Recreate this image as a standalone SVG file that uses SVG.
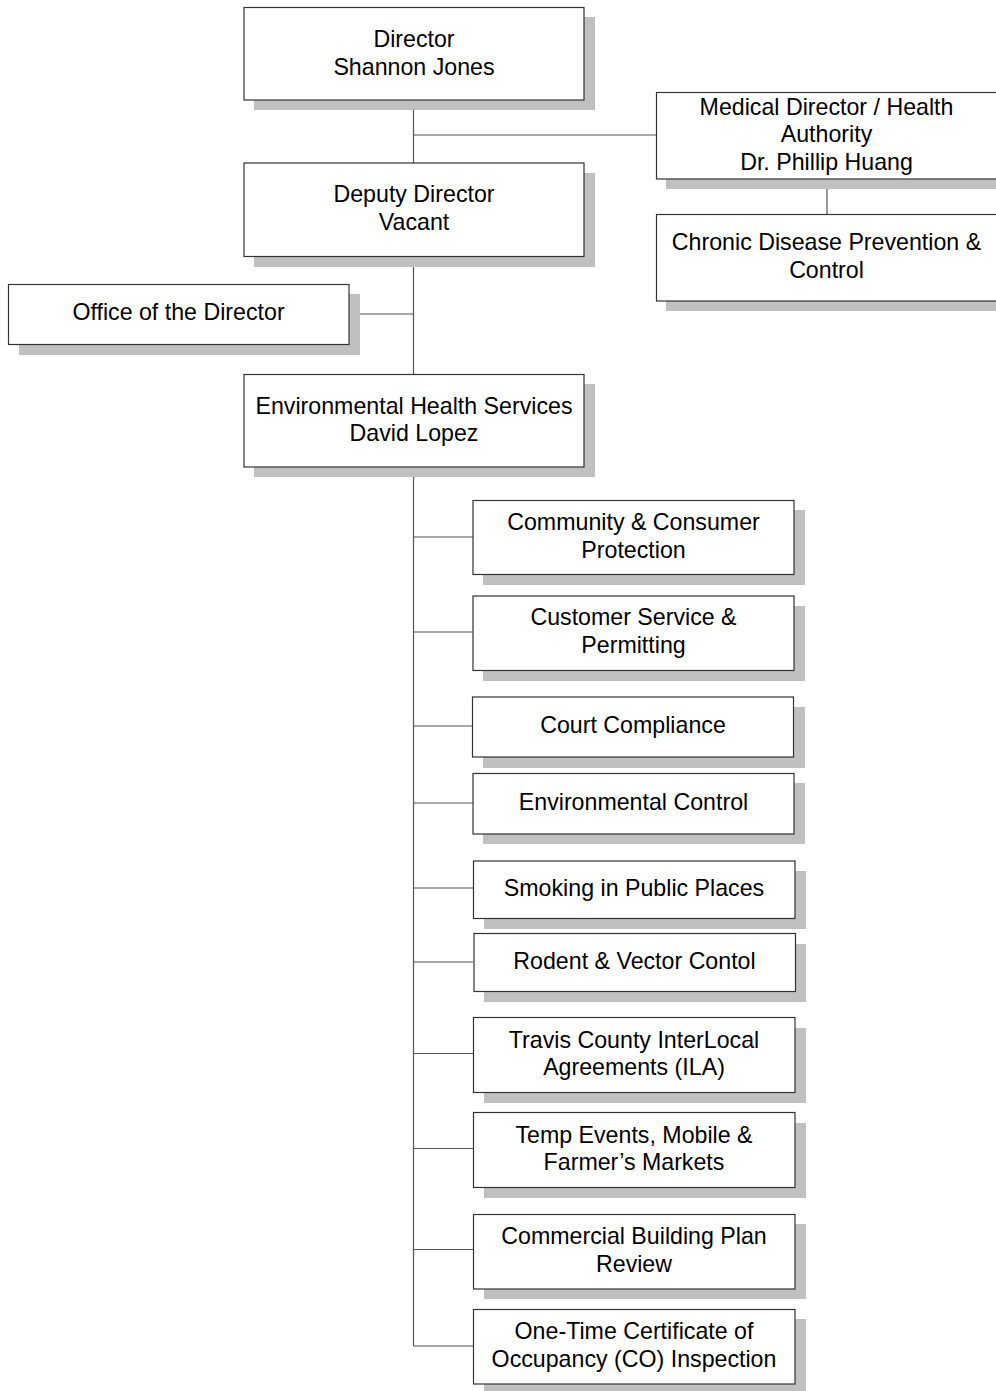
<svg xmlns="http://www.w3.org/2000/svg" width="996" height="1391" viewBox="0 0 996 1391">
<style>
.sh{fill:#c0c0c0;stroke:none}
.bx{fill:#ffffff;stroke:#333333;stroke-width:1.2}
.t{font-family:"Liberation Sans",Arial,sans-serif;font-size:23.2px;fill:#000000;text-anchor:middle}
.c{stroke:#555555;stroke-width:1.2;fill:none}
</style>
<rect width="996" height="1391" fill="#ffffff"/>
<g id="connectors">
<line class="c" x1="413.5" y1="100" x2="413.5" y2="163"/>
<line class="c" x1="413.5" y1="135" x2="656" y2="135"/>
<line class="c" x1="827" y1="179" x2="827" y2="214"/>
<line class="c" x1="413.5" y1="257" x2="413.5" y2="374"/>
<line class="c" x1="349" y1="314" x2="413.5" y2="314"/>
<line class="c" x1="413.5" y1="467" x2="413.5" y2="1346"/>
<line class="c" x1="413.5" y1="537" x2="473" y2="537"/>
<line class="c" x1="413.5" y1="632" x2="473" y2="632"/>
<line class="c" x1="413.5" y1="726" x2="473" y2="726"/>
<line class="c" x1="413.5" y1="803" x2="473" y2="803"/>
<line class="c" x1="413.5" y1="888" x2="473" y2="888"/>
<line class="c" x1="413.5" y1="962" x2="473" y2="962"/>
<line class="c" x1="413.5" y1="1053.5" x2="473" y2="1053.5"/>
<line class="c" x1="413.5" y1="1148.5" x2="473" y2="1148.5"/>
<line class="c" x1="413.5" y1="1249.5" x2="473" y2="1249.5"/>
<line class="c" x1="413.5" y1="1346" x2="473" y2="1346"/>
</g>
<g id="director">
<rect class="sh" x="254" y="17" width="341" height="93"/>
<rect class="bx" x="244" y="7.5" width="340" height="92.5"/>
<text class="t" x="414" y="46.5">Director</text>
<text class="t" x="414" y="74.5">Shannon Jones</text>
</g>
<g id="medical-director">
<rect class="sh" x="666" y="102" width="341" height="87"/>
<rect class="bx" x="656.5" y="92.5" width="341" height="86.5"/>
<text class="t" x="826.5" y="114.5">Medical Director / Health</text>
<text class="t" x="826.5" y="142">Authority</text>
<text class="t" x="826.5" y="169.5">Dr. Phillip Huang</text>
</g>
<g id="chronic-disease">
<rect class="sh" x="666" y="224" width="341" height="87"/>
<rect class="bx" x="656.5" y="214.5" width="341" height="86.5"/>
<text class="t" x="826.5" y="250">Chronic Disease Prevention &amp;</text>
<text class="t" x="826.5" y="277.5">Control</text>
</g>
<g id="deputy-director">
<rect class="sh" x="254" y="173" width="341" height="94"/>
<rect class="bx" x="244" y="163" width="340" height="93.5"/>
<text class="t" x="414" y="202">Deputy Director</text>
<text class="t" x="414" y="229.5">Vacant</text>
</g>
<g id="office-of-director">
<rect class="sh" x="19" y="294" width="341" height="61"/>
<rect class="bx" x="8.5" y="284.5" width="340.5" height="60"/>
<text class="t" x="178.5" y="320">Office of the Director</text>
</g>
<g id="environmental-health">
<rect class="sh" x="254" y="384" width="341" height="93"/>
<rect class="bx" x="244" y="374.5" width="340" height="92.5"/>
<text class="t" x="414" y="413.5">Environmental Health Services</text>
<text class="t" x="414" y="441">David Lopez</text>
</g>
<g id="community-consumer">
<rect class="sh" x="483" y="510" width="322" height="75"/>
<rect class="bx" x="473" y="500.5" width="321" height="74"/>
<text class="t" x="633.5" y="530">Community &amp; Consumer</text>
<text class="t" x="633.5" y="557.5">Protection</text>
</g>
<g id="customer-service">
<rect class="sh" x="483" y="606" width="322" height="75"/>
<rect class="bx" x="473" y="596" width="321" height="74.5"/>
<text class="t" x="633.5" y="625">Customer Service &amp;</text>
<text class="t" x="633.5" y="652.5">Permitting</text>
</g>
<g id="court-compliance">
<rect class="sh" x="483" y="707" width="322" height="61"/>
<rect class="bx" x="472.5" y="697" width="321" height="60"/>
<text class="t" x="633" y="733">Court Compliance</text>
</g>
<g id="environmental-control">
<rect class="sh" x="483" y="783" width="322" height="61"/>
<rect class="bx" x="473" y="773.5" width="321" height="60.5"/>
<text class="t" x="633.5" y="810">Environmental Control</text>
</g>
<g id="smoking-public-places">
<rect class="sh" x="484" y="871" width="322" height="58"/>
<rect class="bx" x="473.5" y="861" width="321.5" height="57.5"/>
<text class="t" x="634" y="895.5">Smoking in Public Places</text>
</g>
<g id="rodent-vector">
<rect class="sh" x="484" y="944" width="322" height="58"/>
<rect class="bx" x="474" y="933.5" width="321.5" height="58"/>
<text class="t" x="634.5" y="968.5">Rodent &amp; Vector Contol</text>
</g>
<g id="travis-county-ila">
<rect class="sh" x="484" y="1028" width="322" height="75"/>
<rect class="bx" x="473.5" y="1017.5" width="321.5" height="75"/>
<text class="t" x="634" y="1047.5">Travis County InterLocal</text>
<text class="t" x="634" y="1075">Agreements (ILA)</text>
</g>
<g id="temp-events">
<rect class="sh" x="484" y="1123" width="322" height="75"/>
<rect class="bx" x="473.5" y="1112.5" width="321.5" height="75"/>
<text class="t" x="634" y="1142.5">Temp Events, Mobile &amp;</text>
<text class="t" x="634" y="1170">Farmer’s Markets</text>
</g>
<g id="commercial-building">
<rect class="sh" x="484" y="1224" width="322" height="75"/>
<rect class="bx" x="473.5" y="1214.5" width="321.5" height="74.5"/>
<text class="t" x="634" y="1244">Commercial Building Plan</text>
<text class="t" x="634" y="1271.5">Review</text>
</g>
<g id="one-time-co">
<rect class="sh" x="484" y="1319" width="322" height="75"/>
<rect class="bx" x="473.5" y="1309.5" width="321.5" height="74.5"/>
<text class="t" x="634" y="1339">One-Time Certificate of</text>
<text class="t" x="634" y="1366.5">Occupancy (CO) Inspection</text>
</g>
</svg>
